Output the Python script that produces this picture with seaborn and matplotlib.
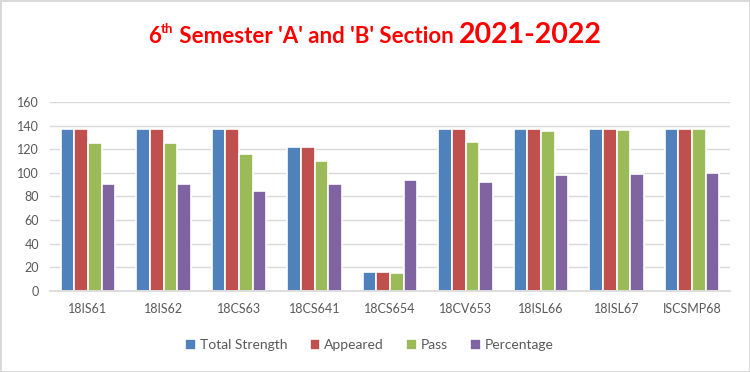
import pandas as pd
import numpy as np
import matplotlib
matplotlib.use("Agg")
import matplotlib.pyplot as plt
import seaborn as sns

# Data
subjects = ['18IS61', '18IS62', '18CS63', '18CS641', '18CS654',
            '18CV653', '18ISL66', '18ISL67', 'ISCSMP68']
total_strength = [137, 137, 137, 122, 16, 137, 137, 137, 137]
appeared = [137, 137, 137, 122, 16, 137, 137, 137, 137]
passed = [125, 125, 116, 110, 15, 126, 135, 136, 137]
percentage = [90.2, 90.2, 84.6, 90.2, 93.7, 92.0, 97.8, 99.0, 100.0]

series_names = ['Total Strength', 'Appeared', 'Pass', 'Percentage']
colors = ['#4F81BD', '#C0504D', '#9BBB59', '#8064A2']

df = pd.DataFrame({
    'Subject': subjects * 4,
    'Series': np.repeat(series_names, len(subjects)),
    'Value': total_strength + appeared + passed + percentage,
})

sns.set_theme(style='white')
plt.rcParams['font.family'] = ['Lato', 'DejaVu Sans']

fig = plt.figure(figsize=(7.5, 3.72), dpi=100)
fig.patch.set_edgecolor('#D9D9D9')
fig.patch.set_linewidth(2)
ax = fig.add_axes([0.067, 0.218, 0.906, 0.508])

sns.barplot(data=df, x='Subject', y='Value', hue='Series', order=subjects,
            hue_order=series_names, palette=colors, width=0.72,
            edgecolor='white', linewidth=1.2, saturation=1, ax=ax)

ax.set_ylim(0, 160)
ax.set_yticks(range(0, 161, 20))
ax.yaxis.grid(True, color='#D9D9D9', linewidth=1)
ax.set_axisbelow(True)
ax.set_xlabel('')
ax.set_ylabel('')
for s in ['left', 'right', 'top']:
    ax.spines[s].set_visible(False)
ax.spines['bottom'].set_color('#D9D9D9')
ax.tick_params(axis='both', length=0, colors='#595959', labelsize=9)
ax.tick_params(axis='x', pad=9)
ax.tick_params(axis='y', pad=8)

ax.legend(loc='upper center', bbox_to_anchor=(0.47, -0.19), ncol=4,
          frameon=False, fontsize=10, labelcolor='#595959',
          handlelength=0.75, handleheight=0.75, handletextpad=0.3,
          columnspacing=1.6)

# Title built from pieces so the "th" can sit raised and smaller
pieces = [('6', 16, 0), ('th', 9.5, 0.025), (" Semester 'A' and 'B' Section ", 16, 0),
          ('2021-2022', 20.5, 0)]
fig.canvas.draw()
r = fig.canvas.get_renderer()
texts = []
for s, size, dy in pieces:
    t = fig.text(0, 0.885 + dy, s, fontsize=size, color='#FF0000',
                 fontweight='bold', va='baseline', ha='left')
    texts.append(t)
widths = [t.get_window_extent(r).width / fig.bbox.width for t in texts]
x = 0.5 - sum(widths) / 2
for t, w in zip(texts, widths):
    t.set_x(x)
    x += w

fig.savefig('out.png', dpi=100)
